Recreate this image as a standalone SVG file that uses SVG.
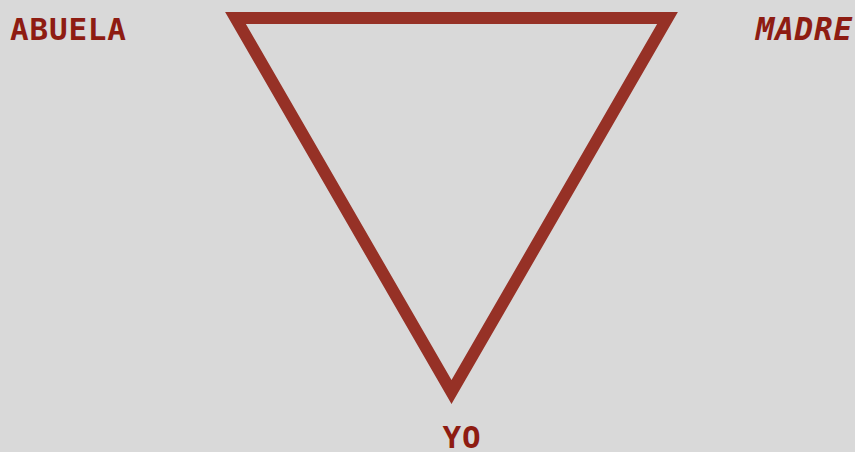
<svg xmlns="http://www.w3.org/2000/svg" width="855" height="452" viewBox="0 0 855 452">
<style>
.lbl{font-family:"DejaVu Sans Mono","Liberation Mono",monospace;font-weight:bold;font-size:31px;letter-spacing:0.8px;fill:#8e1c12}
</style>
<rect width="855" height="452" fill="#d9d9d9"/>
<g id="connectors">
<polygon id="triangle" points="235.5,18 667.5,18 451.5,392" fill="none" stroke="#963126" stroke-width="12" stroke-linejoin="miter" stroke-miterlimit="10"/>
</g>
<g id="abuela"><text class="lbl" x="10" y="40">ABUELA</text></g>
<g id="madre"><text class="lbl" x="853" y="40" text-anchor="end" font-style="italic">MADRE</text></g>
<g id="yo"><text class="lbl" x="462" y="448" text-anchor="middle">YO</text></g>
</svg>
